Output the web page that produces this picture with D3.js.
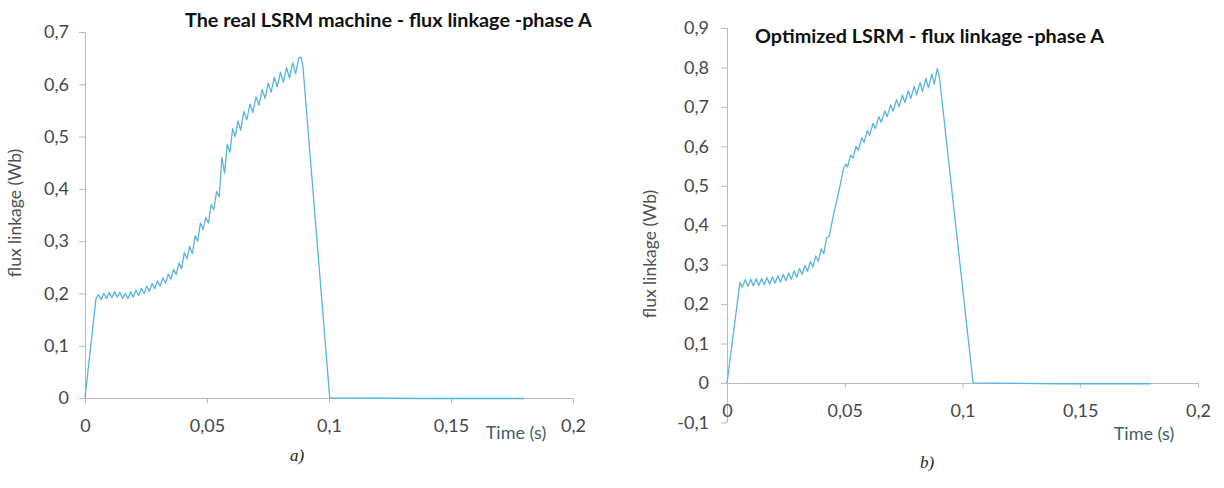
<!DOCTYPE html>
<html>
<head>
<meta charset="utf-8">
<script src="https://cdn.jsdelivr.net/npm/d3@7"></script>
<style>
  html, body { margin: 0; padding: 0; background: #ffffff; }
  svg { display: block; }
</style>
</head>
<body>
<svg id="chart" width="1224" height="488"></svg>
<script>
// ---------- data ----------
const xTicks = [0, 0.05, 0.1, 0.15, 0.2];
const xTickLabels = ["0", "0,05", "0,1", "0,15", "0,2"];
const yTicksA = [0, 0.1, 0.2, 0.3, 0.4, 0.5, 0.6, 0.7];
const yTickLabelsA = ["0", "0,1", "0,2", "0,3", "0,4", "0,5", "0,6", "0,7"];
const yTicksB = [-0.1, 0, 0.1, 0.2, 0.3, 0.4, 0.5, 0.6, 0.7, 0.8, 0.9];
const yTickLabelsB = ["-0,1", "0", "0,1", "0,2", "0,3", "0,4", "0,5", "0,6", "0,7", "0,8", "0,9"];

const titleA = "The real LSRM machine - flux linkage -phase A";
const titleB = "Optimized LSRM - flux linkage -phase A";
const yLabel = "flux linkage (Wb)";
const xLabel = "Time (s)";
const captionA = "a)";
const captionB = "b)";

// time (s) of the real machine flux trace
const timeA = [0, 0.0045, 0.0055, 0.0066, 0.0077, 0.0088, 0.0099, 0.011, 0.0121, 0.0132, 0.0143,
  0.0154, 0.0165, 0.0176, 0.0187, 0.0198, 0.0209, 0.022, 0.0231, 0.0242, 0.0253, 0.0264,
  0.0275, 0.0286, 0.0297, 0.0308, 0.0319, 0.033, 0.0341, 0.0352, 0.0363, 0.0374, 0.0385,
  0.0396, 0.0407, 0.0418, 0.0429, 0.044, 0.0451, 0.0462, 0.0473, 0.0484, 0.0495, 0.0506,
  0.0517, 0.0528, 0.0539, 0.055, 0.0561, 0.0572, 0.0583, 0.0594, 0.0605, 0.0616, 0.0627,
  0.0638, 0.0651, 0.0663, 0.0676, 0.0688, 0.0701, 0.0713, 0.0726, 0.0738, 0.0751, 0.0763,
  0.0776, 0.0788, 0.0801, 0.0813, 0.0826, 0.0838, 0.0851, 0.0863, 0.0876, 0.0885, 0.0893,
  0.1003, 0.14, 0.18];
// flux linkage (Wb) of the real machine
const fluxA = [0, 0.190, 0.198, 0.188, 0.200, 0.190, 0.202, 0.192, 0.203, 0.193, 0.202,
  0.191, 0.200, 0.190, 0.203, 0.193, 0.206, 0.196, 0.210, 0.200, 0.214, 0.204,
  0.219, 0.209, 0.224, 0.214, 0.230, 0.220, 0.237, 0.227, 0.246, 0.236, 0.258,
  0.248, 0.278, 0.266, 0.290, 0.276, 0.310, 0.300, 0.335, 0.322, 0.345, 0.335,
  0.370, 0.360, 0.395, 0.385, 0.460, 0.430, 0.485, 0.470, 0.515, 0.500, 0.530,
  0.512, 0.548, 0.532, 0.562, 0.546, 0.576, 0.560, 0.590, 0.573, 0.602, 0.585,
  0.613, 0.595, 0.623, 0.604, 0.632, 0.612, 0.641, 0.620, 0.650, 0.652, 0.635,
  0, -0.001, -0.001];

// time (s) of the optimized machine flux trace
const timeB = [0, 0.0055, 0.0065, 0.0078, 0.0089, 0.0101, 0.0112, 0.0124, 0.0135, 0.0147,
  0.0158, 0.017, 0.0181, 0.0193, 0.0204, 0.0216, 0.0227, 0.0239, 0.025, 0.0262, 0.0273,
  0.0285, 0.0296, 0.0308, 0.0319, 0.0331, 0.0342, 0.0354, 0.0365, 0.0377, 0.0388, 0.04,
  0.0411, 0.0423, 0.0434, 0.045, 0.0465, 0.048, 0.0495, 0.0505, 0.0512, 0.0525, 0.0535,
  0.0548, 0.0558, 0.0572, 0.0582, 0.0596, 0.0606, 0.062, 0.063, 0.0645, 0.0655, 0.067,
  0.068, 0.0695, 0.0705, 0.072, 0.073, 0.0745, 0.0755, 0.077, 0.078, 0.0795, 0.0805,
  0.082, 0.083, 0.0845, 0.0855, 0.087, 0.088, 0.0893, 0.0902, 0.1045, 0.14, 0.18];
// flux linkage (Wb) of the optimized machine
const fluxB = [0, 0.255, 0.243, 0.262, 0.245, 0.263, 0.246, 0.264, 0.247, 0.265,
  0.249, 0.267, 0.251, 0.269, 0.253, 0.272, 0.256, 0.275, 0.259, 0.279, 0.263,
  0.284, 0.268, 0.290, 0.275, 0.298, 0.283, 0.308, 0.294, 0.322, 0.309, 0.340,
  0.328, 0.368, 0.372, 0.420, 0.460, 0.500, 0.545, 0.555, 0.548, 0.578, 0.570,
  0.600, 0.590, 0.622, 0.610, 0.640, 0.628, 0.658, 0.645, 0.675, 0.661, 0.690,
  0.675, 0.705, 0.689, 0.718, 0.700, 0.730, 0.711, 0.741, 0.721, 0.752, 0.730,
  0.762, 0.739, 0.772, 0.748, 0.783, 0.758, 0.797, 0.775, 0, -0.002, -0.002];

// ---------- drawing ----------
const svg = d3.select("#chart");
const FONT = "Lato, 'Open Sans', sans-serif";
const LINE = "#59b4e2";
const AXIS = "#b4bcc0";
const TICKTXT = "#474747";

function panel(cfg) {
  const g = svg.append("g");
  const x = d3.scaleLinear().domain([0, 0.2]).range([cfg.x0, cfg.x1]);
  const y = d3.scaleLinear().domain(cfg.yDomain).range([cfg.yBottom, cfg.yTop]);

  // y axis
  const yAxis = d3.axisLeft(y).tickValues(cfg.yTicks)
    .tickFormat((d, i) => cfg.yLabels[i]).tickSizeOuter(0).tickSizeInner(6).tickPadding(cfg.yPad);
  const ga = g.append("g").attr("transform", `translate(${cfg.x0},0)`).call(yAxis);
  ga.select(".domain").attr("stroke", AXIS);
  ga.selectAll(".tick line").attr("stroke", AXIS);
  ga.selectAll(".tick text").attr("fill", TICKTXT).style("font-family", FONT).style("font-size", "18px");

  // x axis at y = 0
  const xAxis = d3.axisBottom(x).tickValues(xTicks)
    .tickFormat((d, i) => xTickLabels[i]).tickSizeOuter(0).tickSizeInner(5).tickPadding(cfg.xPad);
  const gx = g.append("g").attr("transform", `translate(0,${y(0)})`).call(xAxis);
  gx.select(".domain").attr("stroke", AXIS);
  gx.selectAll(".tick line").attr("stroke", AXIS);
  gx.selectAll(".tick text").attr("fill", TICKTXT).style("font-family", FONT).style("font-size", "18px");

  // data line
  const pts = cfg.t.map((t, i) => [t, cfg.v[i]]);
  g.append("path").datum(pts)
    .attr("fill", "none").attr("stroke", LINE).attr("stroke-width", 1.3)
    .attr("stroke-linejoin", "round")
    .attr("d", d3.line().x(d => x(d[0])).y(d => y(d[1])));

  // title
  g.append("text").attr("x", cfg.titleX).attr("y", cfg.titleY)
    .attr("text-anchor", "start").attr("fill", "#111")
    .style("font-family", FONT).style("font-weight", "bold").style("font-size", cfg.titleSize)
    .text(cfg.title);

  // y label
  g.append("text")
    .attr("transform", `translate(${cfg.yLabX},${cfg.yLabY}) rotate(-90)`)
    .attr("text-anchor", "middle").attr("fill", "#505050")
    .style("font-family", FONT).style("font-size", "17.5px")
    .text(yLabel);

  // x label
  g.append("text").attr("x", cfg.xLabX).attr("y", cfg.xLabY)
    .attr("text-anchor", "middle").attr("fill", "#3f5e68")
    .style("font-family", FONT).style("font-size", "18px")
    .text(xLabel);

  // caption
  g.append("text").attr("x", cfg.capX).attr("y", cfg.capY)
    .attr("text-anchor", "middle").attr("fill", "#222")
    .style("font-family", "'Liberation Serif', 'DejaVu Serif', serif")
    .style("font-style", "italic").style("font-size", "17px")
    .text(cfg.caption);
}

panel({
  x0: 85, x1: 573, yDomain: [0, 0.7], yBottom: 398, yTop: 32,
  yTicks: yTicksA, yLabels: yTickLabelsA, xPad: 16, yPad: 10,
  t: timeA, v: fluxA,
  title: titleA, titleX: 185, titleY: 27, titleSize: "19.8px",
  yLabX: 21, yLabY: 213,
  xLabX: 516, xLabY: 439,
  caption: captionA, capX: 297, capY: 461
});

panel({
  x0: 727, x1: 1198, yDomain: [-0.1, 0.9], yBottom: 422.4, yTop: 28,
  yTicks: yTicksB, yLabels: yTickLabelsB, xPad: 16, yPad: 12,
  t: timeB, v: fluxB,
  title: titleB, titleX: 755, titleY: 43, titleSize: "19.8px",
  yLabX: 656, yLabY: 254,
  xLabX: 1144, xLabY: 440,
  caption: captionB, capX: 927, capY: 468
});
</script>
</body>
</html>
